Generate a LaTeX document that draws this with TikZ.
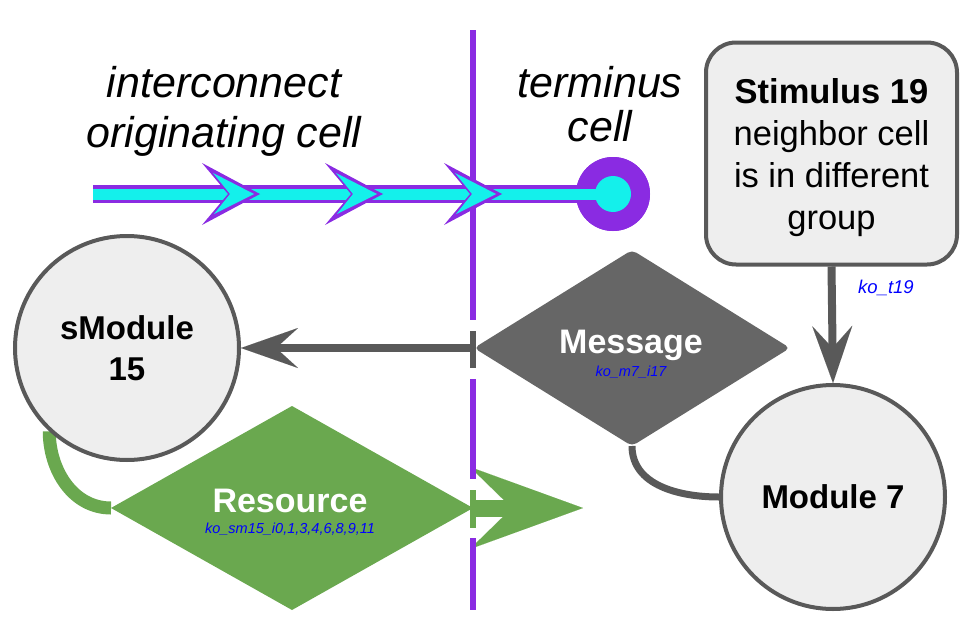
\documentclass[tikz,border=0pt]{standalone}
\usepackage{fontspec}
\setmainfont{Liberation Sans}
\usetikzlibrary{shapes.geometric,arrows.meta}
\definecolor{vio}{HTML}{8A2BE2}
\definecolor{cy}{HTML}{14F0EB}
\definecolor{grn}{HTML}{6AA84F}
\definecolor{dgray}{HTML}{595959}
\definecolor{mgray}{HTML}{666666}
\definecolor{lgray}{HTML}{EEEEEE}
\begin{document}
\begin{tikzpicture}[x=1pt,y=-1pt,
  modcircle/.style={circle, draw=dgray, line width=4pt, fill=lgray, minimum size=224pt, inner sep=0pt, align=center, font=\fontsize{33}{41}\selectfont\bfseries},
  stimbox/.style={rectangle, rounded corners=30pt, draw=dgray, line width=4pt, fill=lgray, minimum width=251pt, minimum height=222pt, inner sep=0pt, align=center, font=\fontsize{34.5}{42}\selectfont},
  shapediamond/.style={diamond, inner sep=0pt, outer sep=0pt},
  titletext/.style={align=center, inner sep=0pt, anchor=north},
  mainlbl/.style={font=\fontsize{34}{40}\selectfont\bfseries, text=white, anchor=base, inner sep=0pt},
  sublbl/.style={font=\fontsize{14.5}{16}\selectfont\itshape, text=blue, anchor=base, inner sep=0pt},
  grayarrow/.style={draw=dgray, line width=8pt, -{Stealth[length=57pt,width=40pt,inset=22pt,line width=0.01pt]}},
  greenarrow/.style={draw=grn, line width=17pt, -{Stealth[length=113pt,width=82pt,inset=42pt,line width=0.01pt]}},
  vline/.style={line width=6pt},
]
\useasboundingbox (0,0) rectangle (975,637);

% titles
\node[titletext, font=\fontsize{43}{50}\selectfont\itshape] (t1) at (224,66) {interconnect\\originating cell};
\node[titletext, font=\fontsize{43}{44}\selectfont\itshape] (t2) at (600,66) {terminus\\cell};

% coordinates
\coordinate (start) at (93,194);
\coordinate (gtip) at (583,508);

% shapes (connectors under them first)
\node[modcircle, draw=none, fill=none] (sm) at (127,348) {};
\node[shapediamond, minimum width=362pt, minimum height=204pt] (res) at (292,508) {};
\node[shapediamond, minimum width=316pt, minimum height=196pt] (msg) at (632,348) {};
\node[modcircle, draw=none, fill=none] (m7) at (833,497) {};

\draw[grn, line width=13pt] (sm.227) to[out=-90, in=180] (res.west);
\draw[dgray, line width=7pt] (msg.south) to[out=-90, in=180] (m7.west);

\node[modcircle] (smv) at (127,348) {sModule\\15};
\node[modcircle] (m7v) at (833,497) {Module 7};
\node[stimbox] (stim) at (831.5,153.5) {\rule{0pt}{34pt}\textbf{Stimulus 19}\\neighbor cell\\is in different\\group};

\fill[grn] (res.north) -- (res.east) -- (res.south) -- (res.west) -- cycle;
\fill[mgray, rounded corners=5pt] (msg.north) -- (msg.east) -- (msg.south) -- (msg.west) -- cycle;

\node[mainlbl] (resl) at (290,512) {Resource};
\node[sublbl] (ress) at (290,533) {ko\_sm15\_i0,1,3,4,6,8,9,11};
\node[mainlbl] (msgl) at (631,353) {Message};
\node[sublbl] (msgs) at (631,376) {ko\_m7\_i17};

% connectors
\draw[grayarrow] (msg.west) -- (smv.east);
\draw[grayarrow] (stim.south) -- (m7v.north);
\node[font=\fontsize{18.5}{20}\selectfont\itshape, text=blue, anchor=base, inner sep=0pt] (kt) at (886,293) {ko\_t19};
\draw[greenarrow] (res.east) -- (gtip);

% vertical boundary line
\draw[vio, vline] (473,30) -- (473,320);
\draw[vio, vline] (473,379) -- (473,479);
\draw[vio, vline] (473,538) -- (473,610);
\draw[dgray, vline] (473,331) -- (473,368);
\draw[grn, vline] (473,490) -- (473,528);

% interconnect arrow
\node[circle, fill=vio, minimum size=74pt, inner sep=0pt] (term) at (613,194) {};
\draw[vio, line width=18pt] (start) -- (term.center);
\fill[vio] (term.center) circle[radius=37];
\draw[cy, line width=11pt] (start) -- (term.center);
\fill[cy] (term.center) circle[radius=18];
\foreach \b in {202,325,444}{
  \fill[vio] (\b,163) -- (\b+58,194) -- (\b,225) -- (\b+26,194) -- cycle;
  \fill[cy] (\b+11,173) -- (\b+52,194) -- (\b+12,214) -- (\b+28,194) -- cycle;
}
\end{tikzpicture}
\end{document}
